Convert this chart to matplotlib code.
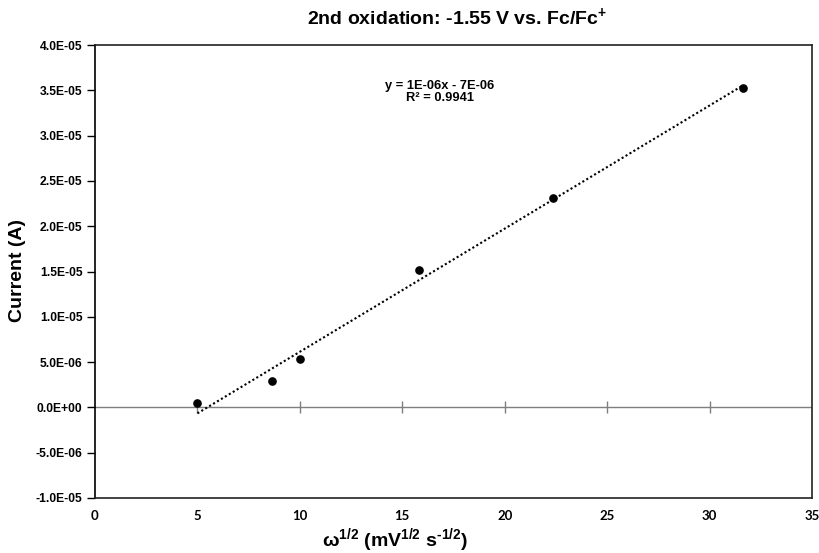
import numpy as np
import matplotlib
matplotlib.use("Agg")
import matplotlib.pyplot as plt

# Data
omega_sqrt = [5.0, 8.66, 10.0, 15.81, 22.36, 31.62]
current = [5.0e-7, 2.9e-6, 5.3e-6, 1.52e-5, 2.31e-5, 3.53e-5]
x_ticks = [0, 5, 10, 15, 20, 25, 30, 35]
y_ticks = [-1.0e-5, -5.0e-6, 0.0, 5.0e-6, 1.0e-5, 1.5e-5, 2.0e-5, 2.5e-5, 3.0e-5, 3.5e-5, 4.0e-5]
title = "2nd oxidation: -1.55 V vs. Fc/Fc$^{+}$"
eq_text = "y = 1E-06x - 7E-06\nR² = 0.9941"

plt.rcParams['font.family'] = ['Liberation Sans', 'DejaVu Sans']
plt.rcParams['mathtext.fontset'] = 'custom'
plt.rcParams['mathtext.rm'] = 'Liberation Sans:bold'
plt.rcParams['mathtext.bf'] = 'Liberation Sans:bold'
plt.rcParams['mathtext.it'] = 'Liberation Sans:bold'
plt.rcParams['mathtext.sf'] = 'Liberation Sans:bold'

fig = plt.figure(figsize=(8.2, 5.53), dpi=100)
ax = fig.add_axes([95/820, 55/553, (812-95)/820, (498-45)/553])

x = np.array(omega_sqrt)
y = np.array(current)
slope, intercept = np.polyfit(x, y, 1)
xf = np.array([x.min(), x.max()])
ax.plot(xf, slope*xf + intercept, color='black', lw=1.5, linestyle=(0, (1, 1.2)), zorder=2)
ax.plot(x, y, 'o', color='black', markersize=5.2, zorder=3)

ax.set_xlim(0, 35)
ax.set_ylim(-1.0e-5, 4.0e-5)

ax.set_yticks(y_ticks)
ax.set_yticklabels([f"{v:.1E}" for v in y_ticks], fontsize=8.7, fontweight='bold')
ax.tick_params(axis='y', direction='out', length=6, width=1, pad=3)

ax.set_xticks(x_ticks)
ax.set_xticklabels([str(v) for v in x_ticks], fontsize=9.5, fontweight='bold', family=['Lato', 'DejaVu Sans'])
ax.tick_params(axis='x', length=0, pad=9)

for s in ax.spines.values():
    s.set_linewidth(1.2)
    s.set_color('#222222')
ax.spines['left'].set_color('black')

# zero line with ticks
ax.axhline(0, color='#7f7f7f', lw=1.0, zorder=1)
sec = ax.secondary_xaxis(0.2)
sec.set_xticks(x_ticks[1:-1])
sec.tick_params(axis='x', direction='inout', length=8, width=1, colors='#7f7f7f', labelbottom=False, labelsize=0)
sec.spines['bottom'].set_visible(False)

ax.text(440/820, 1 - 92/553, eq_text, transform=fig.transFigure, ha='center', va='center',
        fontsize=9.3, fontweight='bold', linespacing=1.05)

fig.text(307/820, 1 - 17/553, title, ha='left', va='center', fontsize=14, fontweight='bold')
fig.text(18/820, 1 - 270/553, "Current (A)", rotation=90, ha='center', va='center', fontsize=14, fontweight='bold')
fig.text(395/820, 1 - 540/553, "ω$^{1/2}$ (mV$^{1/2}$ s$^{\\text{-}1/2}$)",
         ha='center', va='center', fontsize=14, fontweight='bold')

fig.savefig("out.png", dpi=100)
